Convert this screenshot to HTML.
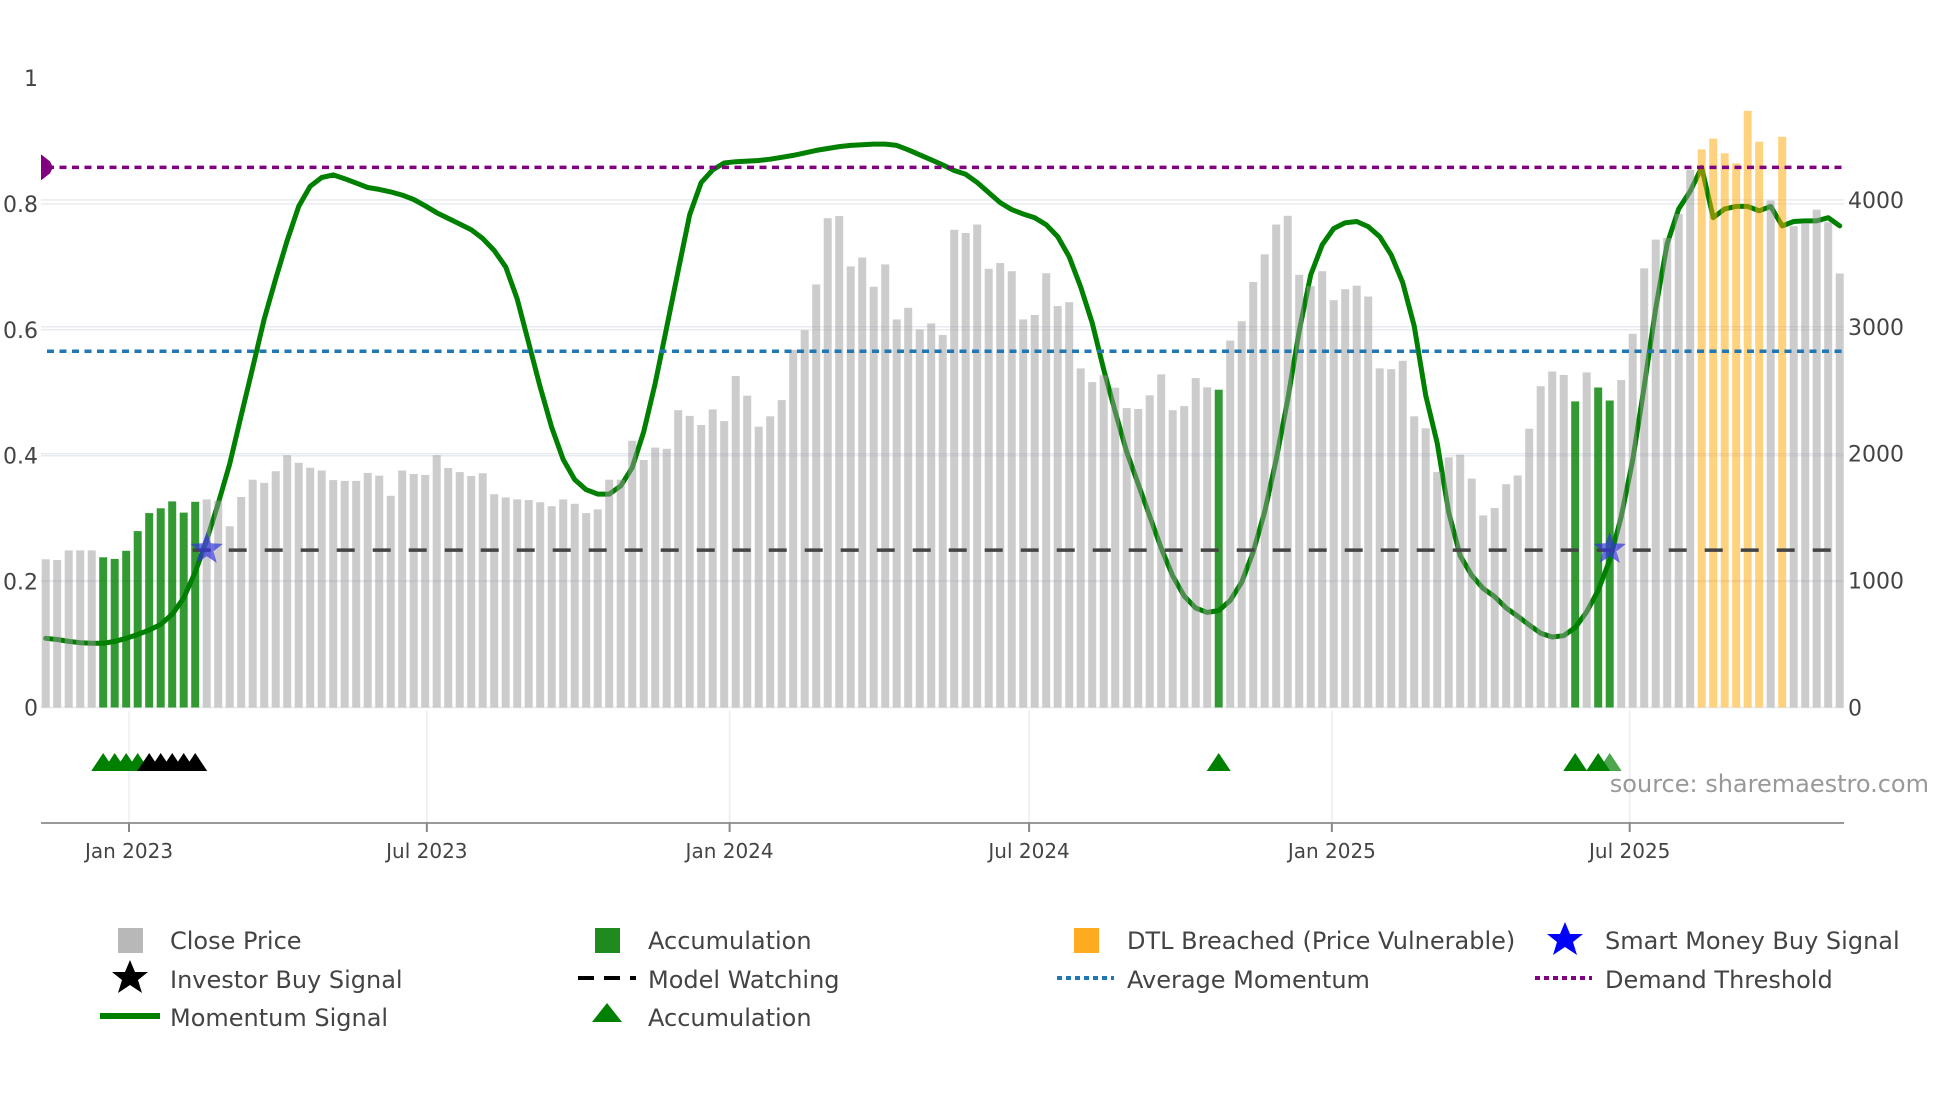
<!DOCTYPE html>
<html><head><meta charset="utf-8"><title>Momentum chart</title>
<style>
html,body{margin:0;padding:0;background:#fff;}
svg{display:block;font-family:"DejaVu Sans","Liberation Sans",sans-serif;}
</style></head>
<body>
<svg id="chart" width="1960" height="1102" viewBox="0 0 1960 1102" xmlns="http://www.w3.org/2000/svg">
<g id="grid"></g>
<g id="line"></g>
<g id="bars"></g>
<g id="refs"></g>
<g id="markers"></g>
<g id="axes"></g>
<text x="1929" y="792" text-anchor="end" font-size="24" fill="#999">source: sharemaestro.com</text>
<g id="legend" font-size="24">
  <rect x="118" y="928" width="25" height="25" fill="#b8b8b8"/>
  <text x="170" y="949" fill="#444">Close Price</text>
  <rect x="595" y="928" width="25" height="25" fill="#1f8b1f"/>
  <text x="648" y="949" fill="#444">Accumulation</text>
  <rect x="1074" y="928" width="25" height="25" fill="#ffab20"/>
  <text x="1127" y="949" fill="#444">DTL Breached (Price Vulnerable)</text>
  <polygon points="1565,922 1570,934 1583,934 1573,942 1577,955 1565,947 1553,955 1557,942 1547,934 1560,934" fill="#0000ff"/>
  <text x="1605" y="949" fill="#444">Smart Money Buy Signal</text>
  <polygon points="130,960 135,972 148,972 138,980 142,993 130,985 118,993 122,980 112,972 125,972" fill="#000"/>
  <text x="170" y="988" fill="#444">Investor Buy Signal</text>
  <line x1="578" y1="978" x2="636" y2="978" stroke="#000" stroke-width="4" stroke-dasharray="16,10"/>
  <text x="648" y="988" fill="#444">Model Watching</text>
  <line x1="1057" y1="978" x2="1114" y2="978" stroke="#1f77b4" stroke-width="4" stroke-dasharray="5,4"/>
  <text x="1127" y="988" fill="#444">Average Momentum</text>
  <line x1="1535" y1="978" x2="1592" y2="978" stroke="#800080" stroke-width="4" stroke-dasharray="5,4"/>
  <text x="1605" y="988" fill="#444">Demand Threshold</text>
  <line x1="100" y1="1016" x2="160" y2="1016" stroke="#008000" stroke-width="6"/>
  <text x="170" y="1026" fill="#444">Momentum Signal</text>
  <polygon points="607,1003 622,1022 592,1022" fill="#008000"/>
  <text x="648" y="1026" fill="#444">Accumulation</text>
</g>
</svg>
<script>
const prices = [1168,1162,1238,1238,1238,1184,1171,1235,1390,1532,1570,1624,1536,1621,1640,1630,1428,1659,1795,1770,
1862,1988,1928,1890,1868,1792,1786,1786,1849,1827,1668,1868,1840,1833,1988,1887,1855,1824,1846,1681,
1656,1640,1634,1618,1586,1640,1605,1532,1561,1795,1795,2102,1950,2048,2039,2343,2298,2226,2349,2257,
2612,2457,2213,2295,2422,2818,2973,3334,3856,3872,3476,3546,3315,3492,3058,3150,2979,3027,2935,3764,
3739,3806,3457,3502,3438,3058,3093,3422,3163,3194,2672,2564,2618,2520,2359,2352,2460,2625,2343,2375,
2596,2523,2504,2891,3043,3353,3571,3806,3875,3410,3321,3438,3210,3296,3324,3239,2672,2666,2732,2295,
2200,1855,1972,1992,1804,1514,1572,1760,1828,2197,2532,2648,2621,2412,2641,2522,2419,2580,2945,3461,
3687,3700,3889,4237,4398,4483,4367,4288,4702,4459,3995,4497,3793,3817,3923,3824,3420];
const momentum = [0.11,0.108,0.105,0.103,0.102,0.102,0.105,0.11,0.116,0.123,0.132,0.148,0.174,0.215,0.266,0.324,0.387,0.464,0.54,0.617,
0.681,0.742,0.796,0.828,0.842,0.846,0.84,0.833,0.826,0.823,0.819,0.814,0.807,0.797,0.786,0.777,0.768,0.759,0.745,0.726,
0.70,0.649,0.579,0.509,0.445,0.394,0.362,0.346,0.339,0.339,0.352,0.381,0.438,0.515,0.604,0.694,0.783,0.834,0.854,0.865,
0.867,0.868,0.869,0.871,0.874,0.877,0.881,0.885,0.888,0.891,0.893,0.894,0.895,0.895,0.893,0.886,0.878,0.87,0.862,0.853,
0.847,0.834,0.818,0.802,0.791,0.784,0.778,0.767,0.748,0.716,0.668,0.611,0.537,0.47,0.406,0.355,0.304,0.253,0.209,0.177,
0.158,0.151,0.154,0.17,0.199,0.247,0.311,0.394,0.489,0.598,0.687,0.735,0.761,0.77,0.772,0.764,0.748,0.719,0.675,0.606,
0.496,0.42,0.31,0.241,0.21,0.189,0.176,0.158,0.145,0.131,0.118,0.112,0.114,0.127,0.152,0.186,0.234,0.303,0.393,0.51,
0.634,0.737,0.792,0.82,0.858,0.778,0.792,0.796,0.796,0.789,0.796,0.765,0.772,0.773,0.773,0.778,0.765];
const accumulationWeeks = [5,6,7,8,9,10,11,12,13,102,133,135,136];
const dtlWeeks = [144,145,146,147,148,149,151];
const accTriangleWeeks = [5,6,7,8,102,133,135,136];
const investorBuyWeeks = [9,10,11,12,13];
const smartMoneyWeeks = [14,136];
const demandThreshold = 0.858;
const averageMomentum = 0.566;
const modelWatching = 0.25;
const leftTicks = [0,0.2,0.4,0.6,0.8,1];
const leftTickLabels = ["0","0.2","0.4","0.6","0.8","1"];
const rightTicks = [0,1000,2000,3000,4000];
const dateTicks = [0,181,365,547,731,912];
const dateTickLabels = ["Jan 2023","Jul 2023","Jan 2024","Jul 2024","Jan 2025","Jul 2025"];

const NS="http://www.w3.org/2000/svg";
const X0=45.7, STEP=11.5, ZERO=707.5, PLOT_L=41, PLOT_R=1844, AXIS_Y=823;
function xBar(i){return X0+i*STEP;}
function yL(m){return ZERO-m*629.5;}
function yR(v){return ZERO-v*0.1269;}
function xDate(d){return 129+d*1.6455;}
function mk(tag,attrs,parent){const e=document.createElementNS(NS,tag);for(const k in attrs)e.setAttribute(k,attrs[k]);parent.appendChild(e);return e;}
const G=id=>document.getElementById(id);

const grid=G('grid');
dateTicks.forEach((d,i)=>{const l=mk('line',{x1:xDate(d),x2:xDate(d),y1:ZERO+3,y2:AXIS_Y,stroke:'#ebedf0','stroke-width':1.5},grid);

});
leftTicks.forEach(t=>{if(t===0||t===1)return;const l=mk('line',{x1:PLOT_L,x2:PLOT_R,y1:yL(t),y2:yL(t),stroke:'#e8ebf0','stroke-width':1.5},grid);

});
rightTicks.forEach(t=>{const l=mk('line',{x1:PLOT_L,x2:PLOT_R,y1:yR(t),y2:yR(t),stroke:'#e8ebf0','stroke-width':1.5},grid);

});

let d='';momentum.forEach((m,i)=>{d+=(i?'L':'M')+xBar(i).toFixed(1)+','+yL(m).toFixed(1);});
const ml=mk('path',{d:d,fill:'none',stroke:'#008000','stroke-width':5,'stroke-linejoin':'round','stroke-linecap':'round'},G('line'));



const bars=G('bars');
prices.forEach((v,i)=>{
  let fill='#999999',op=0.5,name='close-price-bar';
  if(accumulationWeeks.includes(i)){fill='#008000';op=0.8;name='accumulation-bar';}
  else if(dtlWeeks.includes(i)){fill='#ffa500';op=0.5;name='dtl-breached-bar';}
  const r=mk('rect',{x:(xBar(i)-4).toFixed(1),y:yR(v).toFixed(1),width:8,height:(ZERO-yR(v)).toFixed(1),fill:fill,'fill-opacity':op},bars);
  
  
});

const refs=G('refs');
const wl=mk('line',{x1:xBar(smartMoneyWeeks[0])-14,x2:PLOT_R,y1:yL(modelWatching),y2:yL(modelWatching),stroke:'#444','stroke-width':3.5,'stroke-dasharray':'18,18'},refs);


const al=mk('line',{x1:PLOT_L+6,x2:PLOT_R,y1:yL(averageMomentum),y2:yL(averageMomentum),stroke:'#1f77b4','stroke-width':3.5,'stroke-dasharray':'7,5.5'},refs);


const dl=mk('line',{x1:PLOT_L+6,x2:PLOT_R,y1:yL(demandThreshold),y2:yL(demandThreshold),stroke:'#800080','stroke-width':3.5,'stroke-dasharray':'7,5.5'},refs);


const yd=yL(demandThreshold);
const dm=mk('polygon',{points:`${PLOT_L},${yd-13} ${PLOT_L+9},${yd-6} ${PLOT_L+12},${yd} ${PLOT_L+9},${yd+6} ${PLOT_L},${yd+13}`,fill:'#800080'},refs);



const mkr=G('markers');
function tri(cx,cy,fill,op){return mk('polygon',{points:`${cx},${cy-10} ${cx+12},${cy+8} ${cx-12},${cy+8}`,fill:fill,'fill-opacity':op},mkr);}
accTriangleWeeks.forEach((w,k)=>{const t=tri(xBar(w),763,'#008000',w===136?0.7:1);

});
investorBuyWeeks.forEach(w=>{const t=tri(xBar(w),763,'#000',1);

});
function star(cx,cy,R){let p=[];for(let k=0;k<10;k++){const r=k%2?R*0.42:R;const a=-Math.PI/2+k*Math.PI/5;p.push((cx+r*Math.cos(a)).toFixed(1)+','+(cy+r*Math.sin(a)).toFixed(1));}return p.join(' ');}
smartMoneyWeeks.forEach(w=>{const s=mk('polygon',{points:star(xBar(w),yL(modelWatching)-1,17),fill:'#3333dd','fill-opacity':0.7},mkr);

});

const ax=G('axes');
const xl=mk('line',{x1:PLOT_L,x2:PLOT_R,y1:AXIS_Y,y2:AXIS_Y,stroke:'#999','stroke-width':2},ax);


dateTicks.forEach((dd,i)=>{
  const tk=mk('line',{x1:xDate(dd),x2:xDate(dd),y1:AXIS_Y,y2:AXIS_Y+9,stroke:'#888','stroke-width':2},ax);
  
  
  const t=mk('text',{x:xDate(dd),y:858,'text-anchor':'middle','font-size':20,fill:'#444'},ax);
  t.textContent=dateTickLabels[i];
  
  
});
leftTicks.forEach((v,i)=>{
  const t=mk('text',{x:38,y:yL(v)+8,'text-anchor':'end','font-size':22,fill:'#444'},ax);
  t.textContent=leftTickLabels[i];
  
  
});
rightTicks.forEach(v=>{
  const t=mk('text',{x:1848,y:yR(v)+8,'font-size':22,fill:'#444'},ax);
  t.textContent=String(v);
  
  
});
</script>
</body></html>
